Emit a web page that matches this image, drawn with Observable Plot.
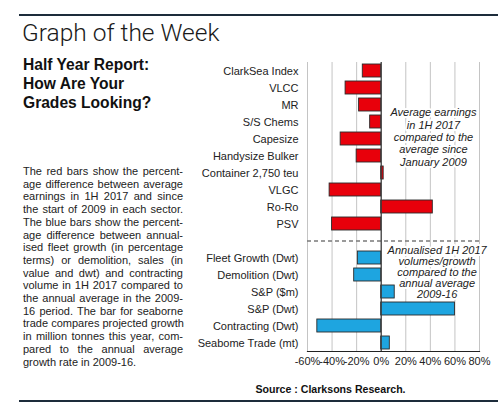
<!DOCTYPE html>
<html>
<head>
<meta charset="utf-8">
<script src="https://cdn.jsdelivr.net/npm/d3@7"></script>
<script src="https://cdn.jsdelivr.net/npm/@observablehq/plot@0.6"></script>
<style>
  html, body { margin: 0; padding: 0; background: #fff; }
  #page { position: relative; width: 502px; height: 413px; overflow: hidden; font-family: "Liberation Sans", Arial, sans-serif; color: #1a1a1a; }
  .hr { position: absolute; left: 19px; width: 479px; height: 2px; background: #1d2c3b; }
  #title { position: absolute; left: 22px; top: 18px; font-family: Roboto, "Liberation Sans", sans-serif; font-weight: 300; font-size: 24.5px; line-height: 30px; white-space: nowrap; color: #1a1a1a; }
  #subtitle { position: absolute; left: 23px; top: 56px; font-weight: bold; font-size: 15.6px; line-height: 18.8px; color: #111; white-space: nowrap; }
  #body { position: absolute; left: 23px; top: 165px; width: 160px; font-size: 11px; line-height: 12.7px; color: #222; }
  #body div { text-align: justify; text-align-last: justify; white-space: nowrap; }
  #body div.last { text-align-last: left; }
  #source { position: absolute; left: 200px; width: 261px; top: 383px; text-align: center; font-weight: bold; font-size: 10.6px; color: #111; }
  #chart { position: absolute; left: 195px; top: 55px; }
</style>
</head>
<body>
<div id="page">
  <div class="hr" style="top:14px"></div>
  <div id="title"></div>
  <div id="subtitle"></div>
  <div id="body"></div>
  <div id="chart"></div>
  <div id="source"></div>
  <div class="hr" style="top:400px"></div>
</div>
<script>
// ---- Text content ----
const titleText = "Graph of the Week";
const subtitleLines = ["Half Year Report:", "How Are Your", "Grades Looking?"];
const bodyLines = [
  "The red bars show the percent-",
  "age difference between average",
  "earnings in 1H 2017 and since",
  "the start of 2009 in each sector.",
  "The blue bars show the percent-",
  "age difference between annual-",
  "ised fleet growth (in percentage",
  "terms) or demolition, sales (in",
  "value and dwt) and contracting",
  "volume in 1H 2017 compared to",
  "the annual average in the 2009-",
  "16 period. The bar for seaborne",
  "trade compares projected growth",
  "in million tonnes this year, com-",
  "pared to the annual average",
  "growth rate in 2009-16."
];
const sourceText = "Source : Clarksons Research.";

// ---- Chart data ----
const earningsNames = ["ClarkSea Index", "VLCC", "MR", "S/S Chems", "Capesize", "Handysize Bulker", "Container 2,750 teu", "VLGC", "Ro-Ro", "PSV"];
const earningsValues = [-15, -29, -18, -9, -33, -20, 2, -42, 42, -40];
const volumeNames = ["Fleet Growth (Dwt)", "Demolition (Dwt)", "S&P ($m)", "S&P (Dwt)", "Contracting (Dwt)", "Seabome Trade (mt)"];
const volumeValues = [-19, -22, 11, 60, -52, 7];
const xTicks = [-60, -40, -20, 0, 20, 40, 60, 80];
const spacer = "__gap__";
const earningsNote = "Average earnings\nin 1H 2017\ncompared to the\naverage since\nJanuary 2009";
const volumesNote = "Annualised 1H 2017\nvolumes/growth\ncompared to the\nannual average\n2009-16";

// ---- Render text blocks ----
document.getElementById("title").textContent = titleText;
document.getElementById("subtitle").innerHTML = subtitleLines.map(s => `<div>${s}</div>`).join("");
const bodyEl = document.getElementById("body");
bodyLines.forEach((line, i) => {
  const d = document.createElement("div");
  d.textContent = line;
  if (i === bodyLines.length - 1) d.className = "last";
  bodyEl.appendChild(d);
});
document.getElementById("source").textContent = sourceText;

// ---- Chart ----
const earnings = earningsNames.map((name, i) => ({name, value: earningsValues[i]}));
const volumes = volumeNames.map((name, i) => ({name, value: volumeValues[i]}));
const yDomain = [...earningsNames, spacer, ...volumeNames];

const chart = Plot.plot({
  width: 300,
  height: 322,
  marginLeft: 112,
  marginRight: 16,
  marginTop: 7,
  marginBottom: 26,
  style: {fontFamily: "'Liberation Sans', Arial, sans-serif", fontSize: "11px", color: "#222", background: "transparent", overflow: "visible"},
  x: {domain: [-60, 80], label: null},
  y: {domain: yDomain, paddingInner: 0.25, paddingOuter: 0.125, label: null},
  marks: [
    Plot.gridX(xTicks, {stroke: "#c4c4c4", strokeOpacity: 1, strokeWidth: 1}),
    Plot.ruleY([spacer], {stroke: "#7a7a7a", strokeDasharray: "4,3", strokeWidth: 1.4}),
    Plot.barX(earnings, {x: "value", y: "name", fill: "#e8000b", stroke: "#2a2a2a", strokeWidth: 0.9}),
    Plot.barX(volumes, {x: "value", y: "name", fill: "#1ea5e0", stroke: "#2a2a2a", strokeWidth: 0.9}),
    Plot.ruleX([0], {stroke: "#3a3a3a", strokeWidth: 1.2}),
    Plot.frame({anchor: "bottom", stroke: "#222", strokeWidth: 1.2}),
    Plot.text([earningsNote], {x: () => 42.5, y: () => "Capesize", text: d => d, dy: -2, fontStyle: "italic", fontSize: 11, lineHeight: 1.13, fill: "#222", stroke: "white", strokeWidth: 4}),
    Plot.text([volumesNote], {x: () => 45.5, y: () => "Demolition (Dwt)", text: d => d, dy: -2.5, fontStyle: "italic", fontSize: 11, lineHeight: 1.0, fill: "#222", stroke: "white", strokeWidth: 4}),
    Plot.axisY({tickSize: 0, tickPadding: 9, tickFormat: d => d === spacer ? "" : d, label: null}),
    Plot.axisX({ticks: xTicks, tickSize: 0, tickPadding: 6, tickFormat: d => d + "%", label: null})
  ]
});
document.getElementById("chart").appendChild(chart);
</script>
</body>
</html>
